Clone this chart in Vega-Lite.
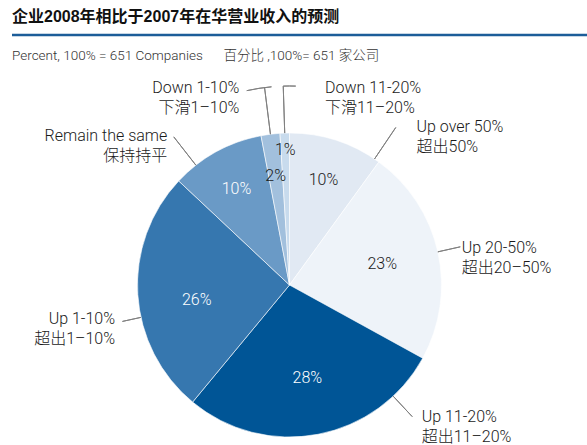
{
  "$schema": "https://vega.github.io/schema/vega-lite/v6.json",
  "width": 575,
  "height": 410,
  "autosize": {"type": "none"},
  "padding": {"left": 12, "top": 35, "right": 0, "bottom": 0},
  "background": "white",
  "config": {"view": {"stroke": null}},
  "title": {
    "text": "企业2008年相比于2007年在华营业收入的预测",
    "subtitle": "Percent, 100% = 651 Companies\u2003\u2002百分比 ,100%= 651 家公司",
    "anchor": "start",
    "frame": "group",
    "offset": -29,
    "subtitlePadding": 24,
    "font": "'Liberation Sans', 'Noto Sans CJK SC', sans-serif",
    "fontSize": 16,
    "fontWeight": "bold",
    "color": "#111111",
    "subtitleFont": "Roboto, 'Noto Sans CJK SC', sans-serif",
    "subtitleFontSize": 13.5,
    "subtitleFontWeight": 300,
    "subtitleColor": "#333333"
  },
  "data": {
    "values": [
      {"rank": 1, "category": "Up over 50%", "label": "Up over 50%\n超出50%", "share": 0.10},
      {"rank": 2, "category": "Up 20-50%", "label": "Up 20-50%\n超出20–50%", "share": 0.23},
      {"rank": 3, "category": "Up 11-20%", "label": "Up 11-20%\n超出11–20%", "share": 0.28},
      {"rank": 4, "category": "Up 1-10%", "label": "Up 1-10%\n超出1–10%", "share": 0.26},
      {"rank": 5, "category": "Remain the same", "label": "Remain the same\n保持持平", "share": 0.10},
      {"rank": 6, "category": "Down 1-10%", "label": "Down 1-10%\n下滑1–10%", "share": 0.02},
      {"rank": 7, "category": "Down 11-20%", "label": "Down 11-20%\n下滑11–20%", "share": 0.01}
    ]
  },
  "layer": [
    {
      "transform": [{"filter": "datum.rank === 1"}],
      "mark": {"type": "rule", "color": "#1c5d99", "strokeWidth": 2.5},
      "encoding": {"y": {"datum": 1, "type": "quantitative", "scale": {"domain": [0, 1]}, "axis": null}}
    },
    {
      "encoding": {
        "theta": {"field": "share", "type": "quantitative", "stack": true, "scale": {"domain": [0, 1]}},
        "order": {"field": "rank", "type": "quantitative"},
        "detail": {"field": "category", "type": "nominal"}
      },
      "layer": [
        {
          "mark": {"type": "arc", "radius": 152, "stroke": "#ffffff", "strokeWidth": 0.6, "xOffset": -10, "yOffset": 45},
          "encoding": {
            "color": {
              "field": "category", "type": "nominal", "legend": null,
              "scale": {
                "domain": ["Up over 50%", "Up 20-50%", "Up 11-20%", "Up 1-10%", "Remain the same", "Down 1-10%", "Down 11-20%"],
                "range": ["#e1e9f3", "#eef3f9", "#005596", "#3677af", "#6a9ac6", "#a2c0dd", "#c8dbed"]
              }
            }
          }
        },
        {
          "mark": {"type": "arc", "filled": false, "stroke": "#808080", "strokeWidth": 1, "radius": 190, "radius2": 152, "padAngle": 3, "thetaOffset": 0.2793, "theta2Offset": 0.2793, "xOffset": -10, "yOffset": 45},
          "encoding": {"strokeOpacity": {"condition": {"test": "datum.rank === 1", "value": 1}, "value": 0}}
        },
        {
          "mark": {"type": "arc", "filled": false, "stroke": "#808080", "strokeWidth": 1, "radius": 175, "radius2": 152, "padAngle": 3, "xOffset": -10, "yOffset": 45},
          "encoding": {"strokeOpacity": {"condition": {"test": "datum.rank === 2", "value": 1}, "value": 0}}
        },
        {
          "mark": {"type": "arc", "filled": false, "stroke": "#808080", "strokeWidth": 1, "radius": 180, "radius2": 152, "padAngle": 3, "thetaOffset": -0.562, "theta2Offset": -0.562, "xOffset": -10, "yOffset": 45},
          "encoding": {"strokeOpacity": {"condition": {"test": "datum.rank === 3", "value": 1}, "value": 0}}
        },
        {
          "mark": {"type": "arc", "filled": false, "stroke": "#808080", "strokeWidth": 1, "radius": 171, "radius2": 152, "padAngle": 3, "thetaOffset": -0.1518, "theta2Offset": -0.1518, "xOffset": -10, "yOffset": 45},
          "encoding": {"strokeOpacity": {"condition": {"test": "datum.rank === 4", "value": 1}, "value": 0}}
        },
        {
          "mark": {"type": "arc", "filled": false, "stroke": "#808080", "strokeWidth": 1, "radius": 188, "radius2": 152, "padAngle": 3, "thetaOffset": -0.1606, "theta2Offset": -0.1606, "xOffset": -10, "yOffset": 45},
          "encoding": {"strokeOpacity": {"condition": {"test": "datum.rank === 5", "value": 1}, "value": 0}}
        },
        {
          "mark": {"type": "arc", "filled": false, "stroke": "#808080", "strokeWidth": 1, "radius": 199, "radius2": 152, "padAngle": 3, "xOffset": -10, "yOffset": 45},
          "encoding": {"strokeOpacity": {"condition": {"test": "datum.rank >= 6", "value": 1}, "value": 0}}
        },
        {
          "mark": {"type": "arc", "filled": false, "stroke": "#808080", "strokeWidth": 1, "radius": 199, "radius2": 199, "thetaOffset": -0.0279, "theta2Offset": -0.0628, "xOffset": -10, "yOffset": 45},
          "encoding": {"strokeOpacity": {"condition": {"test": "datum.rank === 6", "value": 1}, "value": 0}}
        },
        {
          "mark": {"type": "arc", "filled": false, "stroke": "#808080", "strokeWidth": 1, "radius": 199, "radius2": 199, "thetaOffset": 0.0314, "theta2Offset": 0.1396, "xOffset": -10, "yOffset": 45},
          "encoding": {"strokeOpacity": {"condition": {"test": "datum.rank === 7", "value": 1}, "value": 0}}
        },
        {
          "mark": {"type": "text", "align": "center", "baseline": "middle", "radius": 95, "xOffset": -10, "yOffset": 45, "font": "Roboto, 'Noto Sans CJK SC', sans-serif", "fontSize": 16, "fontWeight": 300},
          "encoding": {
            "text": {"condition": {"test": "datum.rank === 2 || datum.rank === 3", "field": "share", "type": "quantitative", "format": ".0%"}, "value": ""},
            "color": {"condition": {"test": "datum.rank === 3", "value": "#ffffff"}, "value": "#1a1a1a"}
          }
        },
        {
          "mark": {"type": "text", "align": "center", "baseline": "middle", "radius": 95, "dx": 2, "dy": 9, "xOffset": -10, "yOffset": 45, "font": "Roboto, 'Noto Sans CJK SC', sans-serif", "fontSize": 16, "fontWeight": 300, "color": "#ffffff"},
          "encoding": {
            "text": {"condition": {"test": "datum.rank === 4", "field": "share", "type": "quantitative", "format": ".0%"}, "value": ""}
          }
        },
        {
          "mark": {"type": "text", "align": "center", "baseline": "middle", "radius": 110, "xOffset": -10, "yOffset": 45, "font": "Roboto, 'Noto Sans CJK SC', sans-serif", "fontSize": 16, "fontWeight": 300},
          "encoding": {
            "text": {"condition": {"test": "datum.rank === 1 || datum.rank === 5 || datum.rank === 6", "field": "share", "type": "quantitative", "format": ".0%"}, "value": ""},
            "color": {"condition": {"test": "datum.rank === 5", "value": "#ffffff"}, "value": "#1a1a1a"}
          }
        },
        {
          "mark": {"type": "text", "align": "center", "baseline": "middle", "radius": 135, "xOffset": -10, "yOffset": 45, "font": "Roboto, 'Noto Sans CJK SC', sans-serif", "fontSize": 16, "fontWeight": 300, "color": "#1a1a1a"},
          "encoding": {
            "text": {"condition": {"test": "datum.rank === 7", "field": "share", "type": "quantitative", "format": ".0%"}, "value": ""}
          }
        },
        {
          "mark": {"type": "text", "align": "left", "baseline": "alphabetic", "radius": 190, "dx": 68.3, "dy": 28, "xOffset": -10, "yOffset": 45, "font": "Roboto, 'Noto Sans CJK SC', sans-serif", "fontSize": 16, "fontWeight": 300, "lineHeight": 20, "lineBreak": "\n", "color": "#1a1a1a"},
          "encoding": {"text": {"condition": {"test": "datum.rank === 1", "field": "label", "type": "nominal"}, "value": ""}}
        },
        {
          "mark": {"type": "text", "align": "left", "baseline": "alphabetic", "radius": 175, "dx": 1.4, "dy": 6.5, "xOffset": -10, "yOffset": 45, "font": "Roboto, 'Noto Sans CJK SC', sans-serif", "fontSize": 16, "fontWeight": 300, "lineHeight": 20, "lineBreak": "\n", "color": "#1a1a1a"},
          "encoding": {"text": {"condition": {"test": "datum.rank === 2", "field": "label", "type": "nominal"}, "value": ""}}
        },
        {
          "mark": {"type": "text", "align": "left", "baseline": "alphabetic", "radius": 175, "dx": 99.4, "dy": -35.2, "xOffset": -10, "yOffset": 45, "font": "Roboto, 'Noto Sans CJK SC', sans-serif", "fontSize": 16, "fontWeight": 300, "lineHeight": 20, "lineBreak": "\n", "color": "#1a1a1a"},
          "encoding": {"text": {"condition": {"test": "datum.rank === 3", "field": "label", "type": "nominal"}, "value": ""}}
        },
        {
          "mark": {"type": "text", "align": "right", "baseline": "alphabetic", "radius": 175, "dx": 0.2, "dy": 28, "xOffset": -10, "yOffset": 45, "font": "Roboto, 'Noto Sans CJK SC', sans-serif", "fontSize": 16, "fontWeight": 300, "lineHeight": 20, "lineBreak": "\n", "color": "#1a1a1a"},
          "encoding": {"text": {"condition": {"test": "datum.rank === 4", "field": "label", "type": "nominal"}, "value": ""}}
        },
        {
          "mark": {"type": "text", "align": "right", "baseline": "alphabetic", "radius": 180, "dx": -35.5, "dy": 13.7, "xOffset": -10, "yOffset": 45, "font": "Roboto, 'Noto Sans CJK SC', sans-serif", "fontSize": 16, "fontWeight": 300, "lineHeight": 20, "lineBreak": "\n", "color": "#1a1a1a"},
          "encoding": {"text": {"condition": {"test": "datum.rank === 5", "field": "label", "type": "nominal"}, "value": ""}}
        },
        {
          "mark": {"type": "text", "align": "right", "baseline": "alphabetic", "radius": 195, "dx": -25.6, "dy": 1.5, "xOffset": -10, "yOffset": 45, "font": "Roboto, 'Noto Sans CJK SC', sans-serif", "fontSize": 16, "fontWeight": 300, "lineHeight": 20, "lineBreak": "\n", "color": "#1a1a1a"},
          "encoding": {"text": {"condition": {"test": "datum.rank === 6", "field": "label", "type": "nominal"}, "value": ""}}
        },
        {
          "mark": {"type": "text", "align": "left", "baseline": "alphabetic", "radius": 195, "dx": 41.6, "dy": 2.6, "xOffset": -10, "yOffset": 45, "font": "Roboto, 'Noto Sans CJK SC', sans-serif", "fontSize": 16, "fontWeight": 300, "lineHeight": 20, "lineBreak": "\n", "color": "#1a1a1a"},
          "encoding": {"text": {"condition": {"test": "datum.rank === 7", "field": "label", "type": "nominal"}, "value": ""}}
        }
      ]
    }
  ]
}
